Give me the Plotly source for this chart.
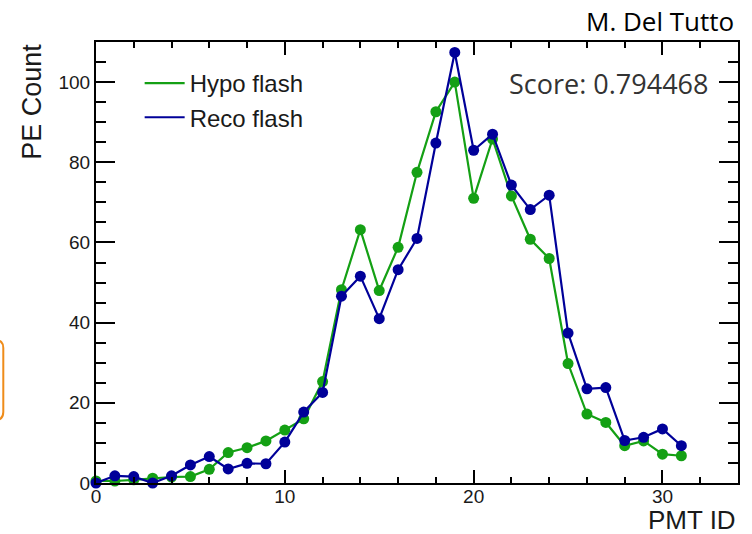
import plotly.graph_objects as go

pmt_id = list(range(32))
hypo_flash = [0.5, 0.5, 0.8, 1.2, 1.5, 1.6, 3.4, 7.6, 8.8, 10.5, 13.2, 16.0,
              25.3, 48.2, 63.2, 48.0, 58.8, 77.5, 92.6, 100.0, 71.0, 85.8,
              71.6, 60.8, 56.0, 29.8, 17.2, 15.1, 9.3, 10.5, 7.2, 6.8]
reco_flash = [0.0, 1.8, 1.6, 0.0, 1.8, 4.5, 6.6, 3.5, 4.9, 4.8, 10.2, 17.7,
              22.6, 46.6, 51.6, 41.0, 53.2, 61.0, 84.8, 107.4, 83.0, 87.0,
              74.3, 68.2, 71.8, 37.4, 23.5, 23.8, 10.6, 11.4, 13.5, 9.3]
score_text = "Score: 0.794468"
author_text = "M. Del Tutto"

GREEN = "#14a014"
BLUE = "#000099"
TXT = "#1a1a1a"
TICKFONT = dict(family="Liberation Sans, Arial, sans-serif", size=19, color=TXT)

fig = go.Figure()
fig.add_trace(go.Scatter(x=pmt_id, y=hypo_flash, mode="lines+markers", name="Hypo flash",
                         line=dict(color=GREEN, width=2.2), marker=dict(color=GREEN, size=11),
                         showlegend=False, cliponaxis=False))
fig.add_trace(go.Scatter(x=pmt_id, y=reco_flash, mode="lines+markers", name="Reco flash",
                         line=dict(color=BLUE, width=2.2), marker=dict(color=BLUE, size=11),
                         showlegend=False, cliponaxis=False))
# legend entries (line only, as in the reference)
fig.add_trace(go.Scatter(x=[None], y=[None], mode="lines", name="Hypo flash",
                         line=dict(color=GREEN, width=2.2)))
fig.add_trace(go.Scatter(x=[None], y=[None], mode="lines", name="Reco flash",
                         line=dict(color=BLUE, width=2.2)))

fig.update_layout(
    width=752, height=534,
    margin=dict(l=96, r=12, t=42, b=51),
    paper_bgcolor="white", plot_bgcolor="white",
    showlegend=True,
    legend=dict(x=0.068, y=0.957, xanchor="left", yanchor="top",
                bgcolor="rgba(0,0,0,0)", borderwidth=0, itemwidth=40,
                font=dict(family="Liberation Sans, Arial, sans-serif", size=24, color=TXT),
                tracegroupgap=0),
)
fig.update_xaxes(range=[0, 34], dtick=10, tick0=0, ticks="inside", ticklen=13, tickwidth=1.5,
                 tickcolor="black", showline=True, linewidth=2, linecolor="black", mirror="ticks",
                 showgrid=False, zeroline=False, tickfont=TICKFONT, ticklabelstandoff=-5,
                 minor=dict(dtick=2, tick0=0, ticks="inside", ticklen=6, tickwidth=1.5,
                            tickcolor="black", showgrid=False))
fig.update_yaxes(range=[0, 110], dtick=20, tick0=0, ticks="inside", ticklen=19, tickwidth=1.5,
                 tickcolor="black", showline=True, linewidth=2, linecolor="black", mirror="ticks",
                 showgrid=False, zeroline=False, tickfont=TICKFONT,
                 minor=dict(dtick=5, tick0=0, ticks="inside", ticklen=10, tickwidth=1.5,
                            tickcolor="black", showgrid=False))

fig.add_annotation(text="PE Count", xref="paper", yref="paper", x=-0.1, y=1.0,
                   xanchor="center", yanchor="top", textangle=-90, showarrow=False,
                   font=dict(family="Liberation Sans, Arial, sans-serif", size=27, color=TXT))
fig.add_annotation(text="PMT ID", xref="paper", yref="paper", x=1.0, y=-0.123,
                   xanchor="right", yanchor="bottom", showarrow=False,
                   font=dict(family="Liberation Sans, Arial, sans-serif", size=26, color=TXT))
fig.add_annotation(text=score_text, xref="paper", yref="paper", x=0.9565, y=0.907,
                   xanchor="right", yanchor="middle", showarrow=False,
                   font=dict(family="Open Sans, sans-serif", size=27, color="#333"))
fig.add_annotation(text=author_text, xref="paper", yref="paper", x=0.997, y=1.048,
                   xanchor="right", yanchor="middle", showarrow=False,
                   font=dict(family="Open Sans, sans-serif", size=26, color="black"))

# decorative fragment at the left edge (orange rounded box edge)
fig.add_shape(type="path", xref="paper", yref="paper",
              path="M -0.18,0.3243 L -0.1568,0.3243 Q -0.1444,0.3243 -0.1444,0.3062 "
                   "L -0.1444,0.161 Q -0.1444,0.1429 -0.1568,0.1429 L -0.18,0.1429",
              line=dict(color="#ef8c1a", width=2))

fig.write_html("out.html")
